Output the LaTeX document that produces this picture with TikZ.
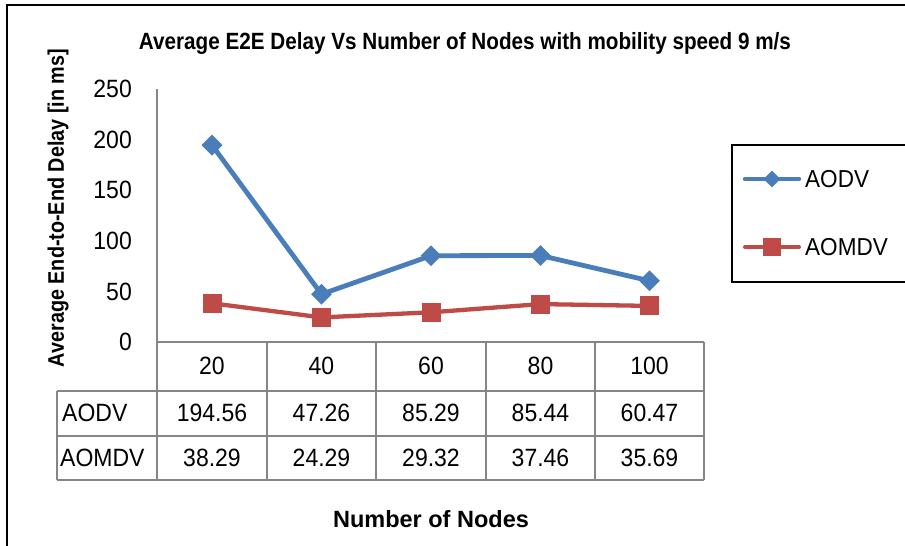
\documentclass[tikz,border=0pt]{standalone}
\usepackage{fontspec}
\setmainfont{Liberation Sans}[FakeStretch=0.92]
\newfontfamily\narrowfont{Liberation Sans}[FakeStretch=0.88]
\newfontfamily\widefont{Liberation Sans}
\usetikzlibrary{shapes.geometric, positioning, calc}
\definecolor{aodv_blue}{RGB}{74, 126, 187}
\definecolor{aomdv_red}{RGB}{190, 75, 72}
\definecolor{grid_gray}{RGB}{134, 134, 134}

\begin{document}
\begin{tikzpicture}[
    x=1pt, y=-1pt,
    % text styles
    ticklbl/.style={anchor=east, inner sep=0pt, font=\fontsize{25}{25}\selectfont},
    cell/.style={inner sep=0pt, font=\fontsize{25}{25}\selectfont},
    rowhead/.style={anchor=west, inner sep=0pt, font=\fontsize{25}{25}\selectfont},
    legtext/.style={anchor=west, inner sep=0pt, font=\fontsize{24.5}{24.5}\selectfont},
    % series styles
    series/.style={line width=#1, line join=round},
    diamark/.style={diamond, fill=aodv_blue, inner sep=0pt, minimum width=#1, minimum height=#1},
    sqmark/.style={rectangle, fill=aomdv_red, inner sep=0pt, minimum size=#1},
    gridline/.style={draw=grid_gray, line width=1.3pt}
]

\useasboundingbox (0,0) rectangle (905,546);

% outer frame
\draw[line width=1.3pt] (7,5) rectangle (915,560);

% titles
\node[font=\narrowfont\bfseries\fontsize{23.5}{23.5}\selectfont] (title) at (465,43) {Average E2E Delay Vs Number of Nodes with mobility speed 9 m/s};
\node[font=\narrowfont\bfseries\fontsize{22.5}{22.5}\selectfont, rotate=90] (ytitle) at (58,208) {Average End-to-End Delay [in ms]};
\node[font=\widefont\bfseries\fontsize{23.5}{23.5}\selectfont] (xtitle) at (431,519) {Number of Nodes};

% value axis
\coordinate (axtop) at (157,89);
\coordinate (axbot) at (157,342);
\draw[gridline] (axtop) -- (axbot);

\node[ticklbl] (t0) at (132,342) {0};
\node[ticklbl] (t50) at (132,291.4) {50};
\node[ticklbl] (t100) at (132,240.8) {100};
\node[ticklbl] (t150) at (132,190.2) {150};
\node[ticklbl] (t200) at (132,139.6) {200};
\node[ticklbl] (t250) at (132,89) {250};

% data table
\draw[gridline] (157,342) -- (704,342);
\draw[gridline] (57,391) -- (704,391);
\draw[gridline] (57,436) -- (704,436);
\draw[gridline] (57,480) -- (704,480);
\draw[gridline] (57,391) -- (57,480);
\draw[gridline] (157,342) -- (157,480);
\draw[gridline] (267,342) -- (267,480);
\draw[gridline] (376,342) -- (376,480);
\draw[gridline] (486,342) -- (486,480);
\draw[gridline] (595,342) -- (595,480);
\draw[gridline] (704,342) -- (704,480);

\node[cell] (h20) at (212,366) {20};
\node[cell] (h40) at (321.5,366) {40};
\node[cell] (h60) at (431,366) {60};
\node[cell] (h80) at (540.5,366) {80};
\node[cell] (h100) at (649.5,366) {100};

\node[rowhead] (raodv) at (62,413) {AODV};
\node[cell] (a20) at (212,413) {194.56};
\node[cell] (a40) at (321.5,413) {47.26};
\node[cell] (a60) at (431,413) {85.29};
\node[cell] (a80) at (540.5,413) {85.44};
\node[cell] (a100) at (649.5,413) {60.47};

\node[rowhead] (raomdv) at (60,458) {AOMDV};
\node[cell] (m20) at (212,458) {38.29};
\node[cell] (m40) at (321.5,458) {24.29};
\node[cell] (m60) at (431,458) {29.32};
\node[cell] (m80) at (540.5,458) {37.46};
\node[cell] (m100) at (649.5,458) {35.69};

% AOMDV series
\coordinate (p1) at (212,303.3);
\coordinate (p2) at (321.5,317.4);
\coordinate (p3) at (431,312.3);
\coordinate (p4) at (540.5,304.1);
\coordinate (p5) at (649.5,305.9);
\draw[series=4.3pt, aomdv_red] (p1) -- (p2) -- (p3) -- (p4) -- (p5);
\node[sqmark=19pt] at (p1) {};
\node[sqmark=19pt] at (p2) {};
\node[sqmark=19pt] at (p3) {};
\node[sqmark=19pt] at (p4) {};
\node[sqmark=19pt] at (p5) {};

% AODV series
\coordinate (q1) at (212,145.1);
\coordinate (q2) at (321.5,294.2);
\coordinate (q3) at (431,255.7);
\coordinate (q4) at (540.5,255.5);
\coordinate (q5) at (649.5,280.8);
\draw[series=4.8pt, aodv_blue] (q1) -- (q2) -- (q3) -- (q4) -- (q5);
\node[diamark=21pt] at (q1) {};
\node[diamark=21pt] at (q2) {};
\node[diamark=21pt] at (q3) {};
\node[diamark=21pt] at (q4) {};
\node[diamark=21pt] at (q5) {};

% legend
\draw[line width=1.3pt] (732,145) rectangle (915,282);
\coordinate (la1) at (745,179);
\coordinate (la2) at (799,179);
\draw[series=4.5pt, aodv_blue, line cap=round] (la1) -- (la2);
\node[diamark=17pt] at (772,179) {};
\node[legtext] (laodv) at (805,179) {AODV};

\coordinate (lm1) at (745,247);
\coordinate (lm2) at (799,247);
\draw[series=4pt, aomdv_red, line cap=round] (lm1) -- (lm2);
\node[sqmark=18pt] at (772,247) {};
\node[legtext] (laomdv) at (805,247) {AOMDV};

\end{tikzpicture}
\end{document}
